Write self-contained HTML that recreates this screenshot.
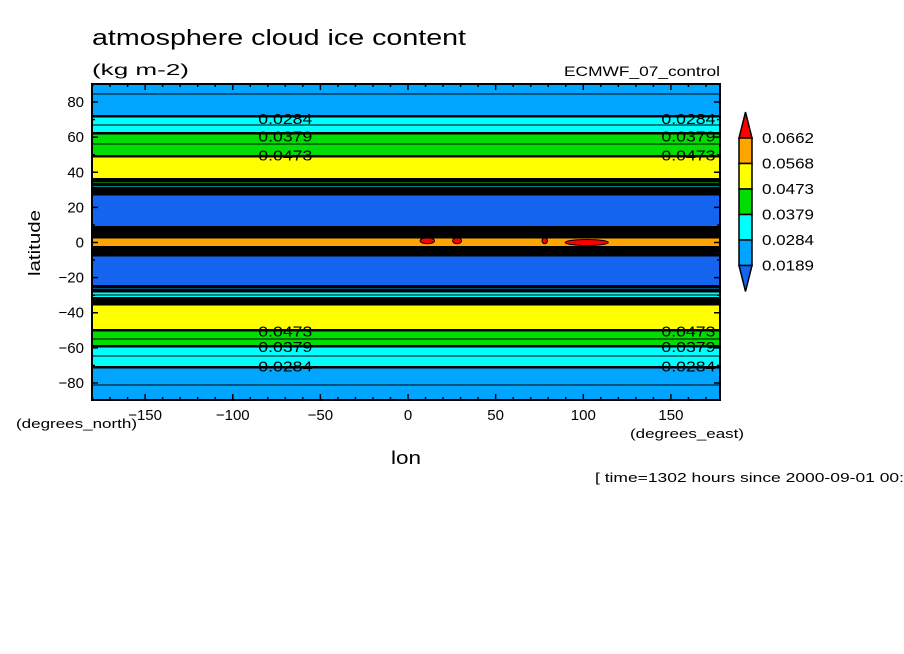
<!DOCTYPE html>
<html><head><meta charset="utf-8"><style>
body{margin:0;background:#fff;}
svg{display:block;font-family:"Liberation Sans",sans-serif;}
</style></head><body>
<svg id="chart" width="904" height="654" viewBox="0 0 904 654">
<text x="92" y="45" font-size="22" textLength="374" lengthAdjust="spacingAndGlyphs">atmosphere cloud ice content</text>
<text x="92" y="75" font-size="16" textLength="97" lengthAdjust="spacingAndGlyphs">(kg m-2)</text>
<text x="564" y="76" font-size="14" textLength="156" lengthAdjust="spacingAndGlyphs">ECMWF_07_control</text>
<g id="plot"></g>
<g id="axes"></g>
<g id="legend"></g>
<text x="40" y="243" font-size="17" text-anchor="middle" textLength="66" lengthAdjust="spacingAndGlyphs" transform="rotate(-90 40 243)">latitude</text>
<text x="406" y="464" font-size="18" text-anchor="middle" textLength="30" lengthAdjust="spacingAndGlyphs">lon</text>
<text x="16" y="428" font-size="13" textLength="121" lengthAdjust="spacingAndGlyphs">(degrees_north)</text>
<text x="630" y="438" font-size="13" textLength="114" lengthAdjust="spacingAndGlyphs">(degrees_east)</text>
<text x="595" y="482" font-size="13" textLength="309" lengthAdjust="spacingAndGlyphs">[ time=1302 hours since 2000-09-01 00:</text>
</svg>
<script>
// ---- data ----
const lats = [90, 80, 71.5, 62, 55, 49, 42, 36, 33, 30, 27.6, 18, 8.5, 7, 5.5, 3, 0, -3, -5.5, -7.5, -16, -25, -28, -32, -35, -42, -50, -55, -59, -65, -71, -80, -90];
const vals = [0.022, 0.025, 0.0284, 0.0379, 0.043, 0.0473, 0.052, 0.0473, 0.0379, 0.0284, 0.0189, 0.016, 0.0189, 0.030, 0.045, 0.0568, 0.060, 0.0568, 0.040, 0.0189, 0.016, 0.0189, 0.0284, 0.0379, 0.0473, 0.052, 0.0473, 0.043, 0.0379, 0.033, 0.0284, 0.024, 0.022];
const levels = [0.0189, 0.0284, 0.0379, 0.0473, 0.0568, 0.0662];
const levelLabels = ["0.0662", "0.0568", "0.0473", "0.0379", "0.0284", "0.0189"];
const lonTicks = [-150, -100, -50, 0, 50, 100, 150];
const latTicks = [80, 60, 40, 20, 0, -20, -40, -60, -80];
const blobLons = [11, 28, 78, 102];
const blobLats = [1, 1, 1, 0];
const blobWidths = [8, 5, 3, 24];
const contourLabelLons = [-70, 160];
const colors = ["#1464f0", "#00a5ff", "#00ffff", "#00dd00", "#ffff00", "#ffa500", "#ff0000"];

// ---- axes ----
const X0 = 92, X1 = 720, Y0 = 84, Y1 = 400;
const LON0 = -180.3, LON1 = 178;
const xs = lon => X0 + (lon - LON0) / (LON1 - LON0) * (X1 - X0);
const ys = lat => 242.5 - lat * 1.756;
const NS = "http://www.w3.org/2000/svg";
function mk(tag, attrs, parent) { const e = document.createElementNS(NS, tag); for (const k in attrs) e.setAttribute(k, attrs[k]); parent.appendChild(e); return e; }
function valAt(lat) {
  for (let i = 0; i < lats.length - 1; i++) {
    if (lat <= lats[i] && lat >= lats[i + 1]) { const t = (lats[i] - lat) / (lats[i] - lats[i + 1]); return vals[i] + t * (vals[i + 1] - vals[i]); }
  }
  return vals[vals.length - 1];
}
function colorOf(v) { let k = 0; while (k < levels.length && v >= levels[k]) k++; return colors[k]; }
const plotG = document.getElementById('plot');
for (let py = Y0; py < Y1; py++) {
  const lat = (242.5 - (py + 0.5)) / 1.756;
  const r = mk('rect', { x: X0, y: py, width: X1 - X0, height: 1.05, fill: colorOf(valAt(lat)) }, plotG);
  
  
}
for (let i = 0; i < blobLons.length; i++) {
  const e = mk('ellipse', { cx: xs(blobLons[i]), cy: ys(blobLats[i]), rx: blobWidths[i] * 0.9, ry: 3, fill: "#ff0000", stroke: "#000", "stroke-width": 1 }, plotG);
  
  
}
const half = [], stepV = 0.0047355 / 2;
for (let v = 0.0142; v < 0.068; v += stepV) half.push(v);
for (let py = Y0; py < Y1; py++) {
  const la = (242.5 - py) / 1.756, lb = (242.5 - py - 1) / 1.756;
  const va = valAt(la), vb = valAt(lb);
  const grad = Math.abs(va - vb);
  for (let j = 0; j < half.length; j++) {
    const L = half[j];
    if ((va - L) * (vb - L) <= 0 && va !== vb) {
      const isMain = levels.some(m => Math.abs(m - L) < 0.0005);
      const isMid = j % 2 === 0;
      if (!isMain && !isMid && grad < 0.0015) continue;
      const l = mk('rect', { x: X0, y: py - (isMain ? 1 : 0.5), width: X1 - X0, height: isMain ? 2.5 : (grad > 0.0015 ? 1.5 : 1), fill: "#000" }, plotG);
      
      
    }
  }
}
const labs = [["0.0284", 71], ["0.0379", 61], ["0.0473", 50], ["0.0473", -50], ["0.0379", -59], ["0.0284", -70]];
labs.forEach(([t, la]) => {
  contourLabelLons.forEach(lo => {
    const tx = mk('text', { x: xs(lo), y: ys(la) + 6, "font-size": 15, "text-anchor": "middle", textLength: 54, lengthAdjust: "spacingAndGlyphs" }, plotG);
    tx.textContent = t;
    
    
  });
});
const axes = document.getElementById('axes');
mk('rect', { x: X0, y: Y0, width: X1 - X0, height: Y1 - Y0, fill: "none", stroke: "#000", "stroke-width": 2 }, axes);
for (let lo = -180; lo <= 170; lo += 10) {
  const big = lo % 50 === 0;
  mk('line', { x1: xs(lo), x2: xs(lo), y1: Y1, y2: Y1 - (big ? 6 : 3), stroke: "#000", "stroke-width": 1.5 }, axes);
  mk('line', { x1: xs(lo), x2: xs(lo), y1: Y0, y2: Y0 + (big ? 6 : 3), stroke: "#000", "stroke-width": 1.5 }, axes);
}
for (let la = -80; la <= 80; la += 10) {
  const big = la % 20 === 0;
  mk('line', { x1: X0, x2: X0 + (big ? 6 : 3), y1: ys(la), y2: ys(la), stroke: "#000", "stroke-width": 1.5 }, axes);
  mk('line', { x1: X1, x2: X1 - (big ? 6 : 3), y1: ys(la), y2: ys(la), stroke: "#000", "stroke-width": 1.5 }, axes);
}
lonTicks.forEach(lo => {
  const t = mk('text', { x: xs(lo), y: 420, "font-size": 15, "text-anchor": "middle" }, axes);
  t.textContent = lo < 0 ? "\u2212" + (-lo) : lo;
  
  
});
latTicks.forEach(la => {
  const t = mk('text', { x: 84, y: ys(la) + 5, "font-size": 15, "text-anchor": "end" }, axes);
  t.textContent = la < 0 ? "\u2212" + (-la) : la;
  
  
});
const lg = document.getElementById('legend');
const LX = 739, LW = 13, legTop = 138, bh = 25.5;
mk('polygon', { points: `${LX},${legTop} ${LX + LW},${legTop} ${LX + LW / 2},${legTop - 26}`, fill: colors[6], stroke: "#000", "stroke-width": 1.5 }, lg);
for (let i = 0; i < 5; i++) {
  const r = mk('rect', { x: LX, y: legTop + i * bh, width: LW, height: bh, fill: colors[5 - i], stroke: "#000", "stroke-width": 1.5 }, lg);
  
  
}
const legBot = legTop + 5 * bh;
mk('polygon', { points: `${LX},${legBot} ${LX + LW},${legBot} ${LX + LW / 2},${legBot + 26}`, fill: colors[0], stroke: "#000", "stroke-width": 1.5 }, lg);
levelLabels.forEach((t, i) => {
  const tx = mk('text', { x: 762, y: legTop + i * bh + 5, "font-size": 15, textLength: 52, lengthAdjust: "spacingAndGlyphs" }, lg);
  tx.textContent = t;
  
  
});
</script>
</body></html>
